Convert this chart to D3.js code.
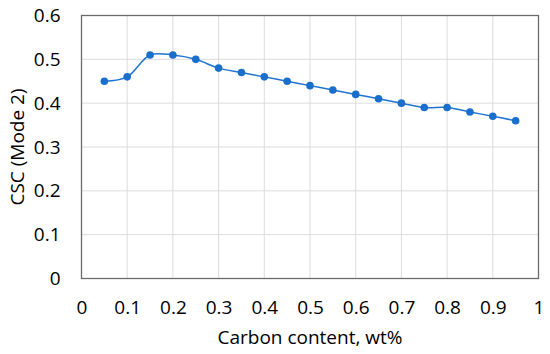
<!DOCTYPE html>
<html>
<head>
<meta charset="utf-8">
<script src="https://cdn.jsdelivr.net/npm/d3@7"></script>
<style>
  html, body { margin: 0; padding: 0; background: #fff; }
  svg { display: block; }
  text { font-family: "Open Sans", "Noto Sans", sans-serif; fill: #000; }
</style>
</head>
<body>
<script>
const WIDTH = 550;
const HEIGHT = 354;

// carbon content (wt%) and CSC (Mode 2)
var carbon = [0.05, 0.10, 0.15, 0.20, 0.25, 0.30, 0.35, 0.40, 0.45, 0.50,
              0.55, 0.60, 0.65, 0.70, 0.75, 0.80, 0.85, 0.90, 0.95];
var csc = [0.45, 0.46, 0.51, 0.51, 0.50, 0.48, 0.47, 0.46, 0.45, 0.44,
           0.43, 0.42, 0.41, 0.40, 0.39, 0.39, 0.38, 0.37, 0.36];
var xTicks = [0, 0.1, 0.2, 0.3, 0.4, 0.5, 0.6, 0.7, 0.8, 0.9, 1];
var yTicks = [0, 0.1, 0.2, 0.3, 0.4, 0.5, 0.6];
var xTitle = 'Carbon content, wt%';
var yTitle = 'CSC (Mode 2)';

var margin = {left: 81.5, right: 11.5, top: 15.5, bottom: 75.5};
var w = WIDTH - margin.left - margin.right;
var h = HEIGHT - margin.top - margin.bottom;
var FONT = '19px';

var svg = d3.select('body').append('svg')
    .attr('width', WIDTH)
    .attr('height', HEIGHT);

var g = svg.append('g')
    .attr('transform', 'translate(' + margin.left + ',' + margin.top + ')');

var x = d3.scaleLinear().domain([0, 1]).range([0, w]);
var y = d3.scaleLinear().domain([0, 0.6]).range([h, 0]);

// gridlines
g.selectAll('.vgrid')
    .data(xTicks)
    .enter()
    .append('line')
    .attr('x1', function(d) { return x(d); })
    .attr('x2', function(d) { return x(d); })
    .attr('y1', 0)
    .attr('y2', h)
    .attr('stroke', '#dcdcdc')
    .attr('stroke-width', 1);

g.selectAll('.hgrid')
    .data(yTicks)
    .enter()
    .append('line')
    .attr('x1', 0)
    .attr('x2', w)
    .attr('y1', function(d) { return y(d); })
    .attr('y2', function(d) { return y(d); })
    .attr('stroke', '#dcdcdc')
    .attr('stroke-width', 1);

// plot border
g.append('rect')
    .attr('width', w)
    .attr('height', h)
    .attr('fill', 'none')
    .attr('stroke', '#6b6b6b')
    .attr('stroke-width', 1.3);

// axes (labels only)
var xAxis = g.append('g')
    .attr('transform', 'translate(0,' + h + ')')
    .call(d3.axisBottom(x).tickValues(xTicks).tickSize(0).tickPadding(22)
        .tickFormat(function(d) { return d3.format('')(d); }));
var yAxis = g.append('g')
    .call(d3.axisLeft(y).tickValues(yTicks).tickSize(0).tickPadding(21)
        .tickFormat(function(d) { return d3.format('')(d); }));

[xAxis, yAxis].forEach(function(a) {
    a.select('.domain').remove();
    a.selectAll('text')
        .style('font-family', '"Open Sans", "Noto Sans", sans-serif')
        .style('font-size', FONT)
        .attr('fill', '#000');
});

// line
var line = d3.line()
    .x(function(d, i) { return x(carbon[i]); })
    .y(function(d) { return y(d); })
    .curve(d3.curveCatmullRom.alpha(0.5));

g.append('path')
    .datum(csc)
    .attr('d', line)
    .attr('fill', 'none')
    .attr('stroke', '#1f74d1')
    .attr('stroke-width', 1.5);

g.selectAll('circle')
    .data(csc)
    .enter()
    .append('circle')
    .attr('cx', function(d, i) { return x(carbon[i]); })
    .attr('cy', function(d) { return y(d); })
    .attr('r', 3.8)
    .attr('fill', '#1a6fcc');

// titles
svg.append('text')
    .attr('x', margin.left + w / 2)
    .attr('y', 344)
    .attr('text-anchor', 'middle')
    .style('font-size', FONT)
    .text(xTitle);

svg.append('text')
    .attr('transform', 'translate(24,' + (margin.top + h / 2) + ') rotate(-90)')
    .attr('text-anchor', 'middle')
    .style('font-size', FONT)
    .text(yTitle);
</script>
</body>
</html>
